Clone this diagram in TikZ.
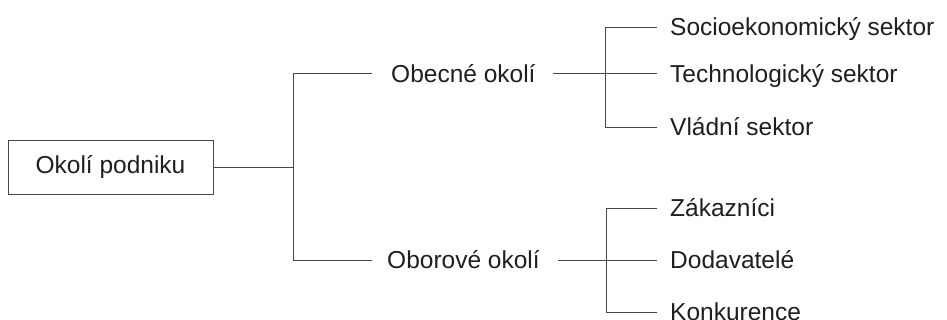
\documentclass[tikz,border=0pt]{standalone}
\usepackage{fontspec}
\setmainfont{Liberation Sans}
\begin{document}
\begin{tikzpicture}[x=1pt,y=-1pt,
  every node/.style={font=\fontsize{24.5}{29}\selectfont, text=black!88},
  lbl/.style={anchor=west, inner sep=0pt, text height=17.5pt, text depth=0pt},
  ln/.style={draw=black!72, line width=0.9pt},
  boxnode/.style={draw=black!72, line width=0.9pt, minimum width=205pt, minimum height=54pt, inner sep=0pt}]
\useasboundingbox (0,0) rectangle (947,320);
% root
\node[boxnode] (root) at (110.5,167) {Okolí podniku};
% level 1 labels
\node[lbl] (ob) at (391,73.5) {Obecné okolí};
\node[lbl] (or) at (387,260) {Oborové okolí};
% level 2 labels
\node[lbl] (s1) at (670,27) {Socioekonomický sektor};
\node[lbl] (s2) at (670,74) {Technologický sektor};
\node[lbl] (s3) at (670,127) {Vládní sektor};
\node[lbl] (z1) at (670,208) {Zákazníci};
\node[lbl] (z2) at (670,260) {Dodavatelé};
\node[lbl] (z3) at (670,312) {Konkurence};
% junction coordinates
\coordinate (j0) at (293.5,167);
\coordinate (j0t) at (293.5,73.5);
\coordinate (j0b) at (293.5,260);
\coordinate (obin) at (372,73.5);
\coordinate (orin) at (372,260);
\coordinate (obout) at (553,73.5);
\coordinate (orout) at (558,260);
\coordinate (jat) at (605,27);
\coordinate (jab) at (605,127);
\coordinate (jbt) at (606,208);
\coordinate (jbb) at (606,312);
\coordinate (s1in) at (657,27);
\coordinate (s2in) at (657,73.5);
\coordinate (s3in) at (657,127);
\coordinate (z1in) at (657,208);
\coordinate (z2in) at (657,260);
\coordinate (z3in) at (657,312);
% connectors
\draw[ln] (root.east) -- (j0);
\draw[ln] (obin) -- (j0t) -- (j0b) -- (orin);
\draw[ln] (obout) -- (s2in);
\draw[ln] (s1in) -- (jat) -- (jab) -- (s3in);
\draw[ln] (orout) -- (z2in);
\draw[ln] (z1in) -- (jbt) -- (jbb) -- (z3in);
\end{tikzpicture}
\end{document}
